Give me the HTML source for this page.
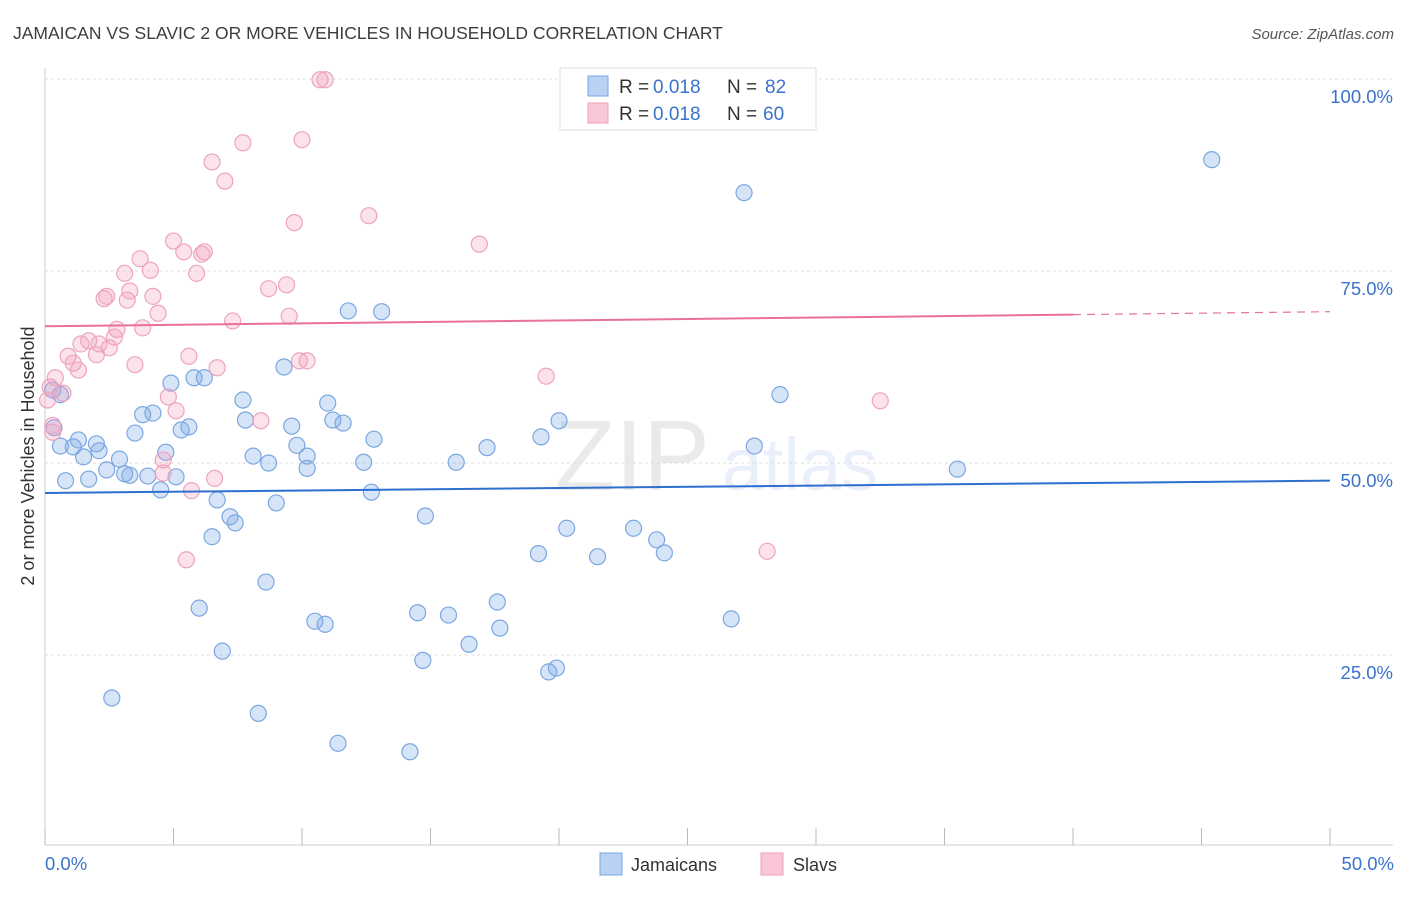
<!DOCTYPE html>
<html><head><meta charset="utf-8"><style>
body{margin:0;background:#fff;font-family:"Liberation Sans",sans-serif;}
svg text{font-family:"Liberation Sans",sans-serif;}
</style></head><body>
<svg id="chart" width="1406" height="892" xmlns="http://www.w3.org/2000/svg">
<text x="13" y="39" font-size="17.5" fill="#3d3d3d">JAMAICAN VS SLAVIC 2 OR MORE VEHICLES IN HOUSEHOLD CORRELATION CHART</text>
<text x="1394" y="39" font-size="15" fill="#555" font-style="italic" text-anchor="end">Source: ZipAtlas.com</text>
<text transform="translate(34,456) rotate(-90)" font-size="18" fill="#333" text-anchor="middle">2 or more Vehicles in Household</text>
<g opacity="0.13">
<text x="632" y="490" font-size="100" font-family="Liberation Serif" fill="#666" text-anchor="middle">ZIP</text>
<text x="800" y="490" font-size="74" fill="#5d8fd8" text-anchor="middle">atlas</text>
</g>
<g id="grid"></g>
<g id="axes"></g>
<g id="pts"></g>
<g id="lines"></g>
<g>
<rect x="560" y="68" width="256" height="62" fill="#fff" stroke="#ddd"/>
<rect x="588" y="76" width="20" height="20" fill="#b9d2f4" stroke="#7aa6e4"/>
<rect x="588" y="103" width="20" height="20" fill="#f8c6d6" stroke="#eea0bb"/>
<text x="619" y="93" font-size="19" fill="#333">R =</text>
<text x="653" y="93" font-size="19" fill="#3a73cc">0.018</text>
<text x="727" y="93" font-size="19" fill="#333">N =</text>
<text x="765" y="93" font-size="19" fill="#3a73cc">82</text>
<text x="619" y="120" font-size="19" fill="#333">R =</text>
<text x="653" y="120" font-size="19" fill="#3a73cc">0.018</text>
<text x="727" y="120" font-size="19" fill="#333">N =</text>
<text x="763" y="120" font-size="19" fill="#3a73cc">60</text>
</g>
<g>
<rect x="600" y="853" width="22" height="22" fill="#b9d2f4" stroke="#7aa6e4"/>
<text x="631" y="871" font-size="18" fill="#333">Jamaicans</text>
<rect x="761" y="853" width="22" height="22" fill="#f8c6d6" stroke="#eea0bb"/>
<text x="793" y="871" font-size="18" fill="#333">Slavs</text>
</g>
<text x="45" y="870" font-size="18.5" fill="#3a73cc">0.0%</text>
<text x="1394" y="870" font-size="18.5" fill="#3a73cc" text-anchor="end">50.0%</text>
</svg>
<script>
const yTicks=[25,50,75,100];
const yTickLabels=["25.0%","50.0%","75.0%","100.0%"];
const jamX=[45.4,27.2,11.8,13.1,9.3,5.8,6.2,4.9,0.3,0.6,7.7,28.6,4.2,3.8,7.8,11.2,11.6,9.6,11.0,20.0,0.35,3.5,5.6,5.3,12.8,19.3,1.3,2.0,0.6,1.1,2.1,4.7,9.8,17.2,27.6,1.5,2.9,8.1,8.7,12.4,16.0,10.2,10.2,35.5,2.4,3.1,3.3,4.0,5.1,0.8,1.7,4.5,12.7,6.7,9.0,14.8,7.2,7.4,20.3,22.9,6.5,23.8,24.1,19.2,21.5,8.6,17.6,14.5,15.7,6.0,10.5,10.9,26.7,17.7,16.5,6.9,14.7,19.9,19.6,2.6,8.3,11.4,14.2];
const jamY=[89.5,85.2,69.8,69.7,62.5,61.1,61.1,60.4,59.5,58.9,58.2,58.9,56.5,56.3,55.6,55.6,55.2,54.8,57.8,55.5,54.6,53.9,54.7,54.3,53.1,53.4,53.0,52.5,52.2,52.1,51.6,51.4,52.3,52.0,52.2,50.8,50.5,50.9,50.0,50.1,50.1,50.9,49.3,49.2,49.1,48.6,48.4,48.3,48.2,47.7,47.9,46.5,46.2,45.2,44.8,43.1,43.0,42.2,41.5,41.5,40.4,40.0,38.3,38.2,37.8,34.5,31.9,30.5,30.2,31.1,29.4,29.0,29.7,28.5,26.4,25.5,24.3,23.3,22.8,19.4,17.4,13.5,12.4];
const slvX=[10.7,10.9,10.0,7.7,6.5,7.0,12.6,9.7,16.9,5.0,5.4,6.2,6.1,3.7,4.1,3.1,5.9,9.4,8.7,3.3,2.3,2.4,4.2,3.2,4.4,7.3,9.5,3.8,2.8,2.7,1.7,1.4,2.1,2.5,2.0,0.9,1.1,5.6,3.5,1.3,9.9,10.2,6.7,19.5,0.4,0.2,0.7,4.8,5.1,8.4,32.5,4.6,4.6,6.6,5.7,28.1,5.5,0.3,0.1,0.3];
const slvY=[99.9,99.9,92.1,91.7,89.2,86.7,82.2,81.3,78.5,78.9,77.5,77.5,77.2,76.6,75.1,74.7,74.7,73.2,72.7,72.4,71.4,71.7,71.7,71.2,69.5,68.5,69.1,67.6,67.4,66.4,65.9,65.5,65.5,65.0,64.1,63.9,63.0,63.9,62.8,62.1,63.3,63.3,62.4,61.3,61.1,59.9,59.1,58.6,56.8,55.5,58.1,50.4,48.7,48.0,46.4,38.5,37.4,54.9,58.2,54.0];
const jamFit=[46.1,47.7];
const slvFit=[67.8,69.7];
const NS="http://www.w3.org/2000/svg";
const X0=45,X1=1330,Y0=847,PXY=7.68;
function sx(v){return X0+v*(X1-X0)/50;}
function sy(v){return Y0-v*PXY;}
function mk(t,a,p){const e=document.createElementNS(NS,t);for(const k in a)e.setAttribute(k,a[k]);p.appendChild(e);return e;}
const grid=document.getElementById('grid'),axes=document.getElementById('axes'),pts=document.getElementById('pts'),lines=document.getElementById('lines');
mk('line',{x1:X0,y1:sy(100),x2:1393,y2:sy(100),stroke:'#ddd','stroke-dasharray':'3,3'},grid);
yTicks.forEach((t,i)=>{
 const l=mk('line',{x1:X0,y1:sy(t),x2:1393,y2:sy(t),stroke:'#ddd','stroke-dasharray':'3,3'},grid);
 
 
 const tx=mk('text',{x:1393,y:sy(t)+24,'font-size':18.5,fill:'#3a73cc','text-anchor':'end'},grid);
 tx.textContent=yTickLabels[i];
 
 
});
mk('line',{x1:X0,y1:68,x2:X0,y2:845,stroke:'#ccc'},axes);
mk('line',{x1:X0,y1:845,x2:1393,y2:845,stroke:'#ccc'},axes);
for(let i=0;i<=10;i++){const t=mk('line',{x1:sx(i*5),y1:828,x2:sx(i*5),y2:845,stroke:'#bbb'},axes);
 
 }
function dots(xs,ys,fill,stroke,name){xs.forEach((x,i)=>{const c=mk('circle',{cx:sx(x),cy:sy(ys[i]),r:8,fill:fill,stroke:stroke,'stroke-width':1.2},pts);
 
 });}
dots(jamX,jamY,'rgba(120,165,230,0.3)','#7ba7e2','jamaican-point');
dots(slvX,slvY,'rgba(242,160,190,0.3)','#eea4bf','slav-point');
const bl=mk('line',{x1:sx(0),y1:sy(jamFit[0]),x2:sx(50),y2:sy(jamFit[1]),stroke:'#2f6fd0','stroke-width':2},lines);


const ym=slvFit[0]+(slvFit[1]-slvFit[0])*0.8;
const pl=mk('line',{x1:sx(0),y1:sy(slvFit[0]),x2:sx(40),y2:sy(ym),stroke:'#e8709a','stroke-width':2},lines);


const pd=mk('line',{x1:sx(40),y1:sy(ym),x2:sx(50),y2:sy(slvFit[1]),stroke:'#e8709a','stroke-width':1.2,'stroke-dasharray':'8,6'},lines);


</script>
</body></html>
